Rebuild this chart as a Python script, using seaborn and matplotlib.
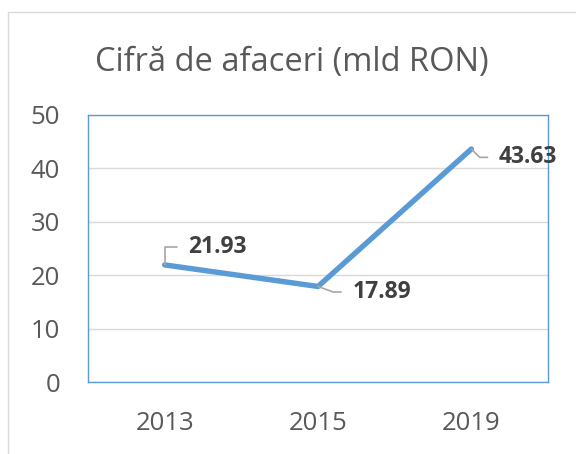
import matplotlib.pyplot as plt
import matplotlib.patches as mpatches
import pandas as pd
import seaborn as sns

# data
years = ["2013", "2015", "2019"]
turnover = [21.93, 17.89, 43.63]
title = "Cifră de afaceri (mld RON)"

# label offsets (points) relative to each data point
label_offsets = [(17, 13), (25, -4), (20, -6)]
label_styles = ["angle,angleA=0,angleB=90,rad=0",
                "angle,angleA=0,angleB=-20,rad=0",
                "angle,angleA=0,angleB=-45,rad=0"]

df = pd.DataFrame({"year": years, "value": turnover})

sns.set_style("white")
plt.rcParams['font.family'] = ['Open Sans', 'DejaVu Sans']

line_col = "#5B9BD5"
text_col = "#595959"

fig = plt.figure(figsize=(5.76, 4.54), dpi=100, facecolor='w')
ax = fig.add_axes([88 / 576, 1 - 382 / 454, 460 / 576, 267 / 454])

sns.lineplot(data=df, x="year", y="value", ax=ax, color=line_col, linewidth=3.9,
             solid_capstyle='round', solid_joinstyle='round', sort=False)

ax.set_xlim(-0.5, 2.5)
ax.set_ylim(0, 50)
ax.set_yticks([0, 10, 20, 30, 40, 50])
ax.yaxis.grid(True, color="#D9D9D9", linewidth=1)
ax.set_axisbelow(True)
for sp in ax.spines.values():
    sp.set_visible(True)
    sp.set_color(line_col)
    sp.set_linewidth(1)
ax.set_xlabel("")
ax.set_ylabel("")
ax.tick_params(axis='y', length=0, pad=20, labelsize=18.5, labelcolor=text_col)
ax.tick_params(axis='x', length=0, pad=21, labelsize=18.5, labelcolor=text_col)

for i, (v, off, cs) in enumerate(zip(turnover, label_offsets, label_styles)):
    ax.annotate(f"{v:.2f}", xy=(i, v), xytext=off, textcoords='offset points',
                ha='left', va='center', fontsize=16.5, fontweight='bold', color="#404040",
                annotation_clip=False,
                arrowprops=dict(arrowstyle='-', color="#A6A6A6", linewidth=1.2,
                                connectionstyle=cs, shrinkA=6, shrinkB=0))

fig.text(292 / 576, 1 - 62 / 454, title, ha='center', va='center', fontsize=23.5,
         color=text_col)

# outer chart border
fig.patches.append(mpatches.Rectangle((8 / 576, -0.1), 1.1, 1 - 12 / 454 + 0.1,
                                      transform=fig.transFigure, fill=False,
                                      edgecolor="#D9D9D9", linewidth=1))

plt.savefig("out.png", dpi=100, facecolor='w')
plt.close("all")
